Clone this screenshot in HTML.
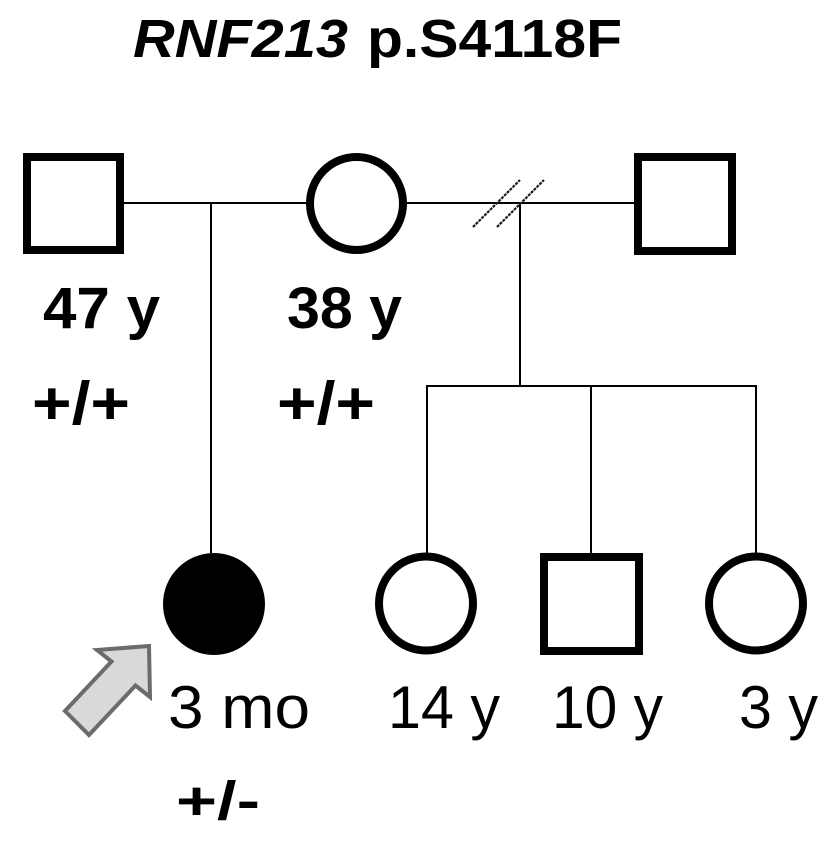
<!DOCTYPE html>
<html>
<head>
<meta charset="utf-8">
<style>
  html, body { margin: 0; padding: 0; background: #ffffff; }
  svg { display: block; }
  text { font-family: "Liberation Sans", Arial, sans-serif; fill: #000; }
</style>
</head>
<body>
<svg width="833" height="855" viewBox="0 0 833 855" xmlns="http://www.w3.org/2000/svg">
  <rect x="0" y="0" width="833" height="855" fill="#ffffff"/>

  <!-- Title -->
  <text x="133" y="57" font-size="54" font-weight="bold" font-style="italic" textLength="215" lengthAdjust="spacingAndGlyphs">RNF213</text>
  <text x="367" y="57" font-size="54" font-weight="bold" textLength="255" lengthAdjust="spacingAndGlyphs">p.S4118F</text>

  <!-- Connector lines -->
  <g stroke="#000" stroke-width="2" fill="none">
    <line x1="124" y1="203" x2="306" y2="203"/>
    <line x1="407" y1="203" x2="634" y2="203"/>
    <line x1="211" y1="203" x2="211" y2="553"/>
    <line x1="520" y1="203" x2="520" y2="386"/>
    <line x1="426" y1="386" x2="757" y2="386"/>
    <line x1="427" y1="386" x2="427" y2="553"/>
    <line x1="591" y1="386" x2="591" y2="553"/>
    <line x1="756" y1="386" x2="756" y2="553"/>
  </g>

  <!-- Divorce hatch marks -->
  <g stroke="#1a1a1a" stroke-width="2.2" stroke-dasharray="3 1">
    <line x1="473" y1="227" x2="520" y2="180"/>
    <line x1="497" y1="227" x2="544" y2="180"/>
  </g>

  <!-- Generation I -->
  <rect x="27" y="157" width="93" height="93" fill="#fff" stroke="#000" stroke-width="8"/>
  <circle cx="356.5" cy="203.5" r="46.5" fill="#fff" stroke="#000" stroke-width="8"/>
  <rect x="638" y="157" width="94" height="94" fill="#fff" stroke="#000" stroke-width="8"/>

  <!-- Generation II -->
  <circle cx="214" cy="604" r="51" fill="#000"/>
  <circle cx="426" cy="603.5" r="47" fill="#fff" stroke="#000" stroke-width="8"/>
  <rect x="544" y="557" width="95" height="94" fill="#fff" stroke="#000" stroke-width="8"/>
  <circle cx="756" cy="603.5" r="47" fill="#fff" stroke="#000" stroke-width="8"/>

  <!-- Proband arrow -->
  <polygon points="149,646 97,650 111.5,661.5 65,711 89,735 135.5,685.5 150,697"
           fill="#d9d9d9" stroke="#6b6b6b" stroke-width="4" stroke-linejoin="miter"/>

  <!-- Labels generation I -->
  <text x="43" y="328" font-size="58" font-weight="bold" textLength="117" lengthAdjust="spacingAndGlyphs">47 y</text>
  <text x="287" y="328" font-size="58" font-weight="bold" textLength="115" lengthAdjust="spacingAndGlyphs">38 y</text>
  <text x="32" y="424" font-size="60" font-weight="bold" textLength="98" lengthAdjust="spacingAndGlyphs">+/+</text>
  <text x="277" y="424" font-size="60" font-weight="bold" textLength="98" lengthAdjust="spacingAndGlyphs">+/+</text>

  <!-- Labels generation II -->
  <text x="168" y="728" font-size="60" textLength="142" lengthAdjust="spacingAndGlyphs">3 mo</text>
  <text x="176" y="819" font-size="54" font-weight="bold" textLength="84" lengthAdjust="spacingAndGlyphs">+/-</text>
  <text x="388" y="728" font-size="60" textLength="112" lengthAdjust="spacingAndGlyphs">14 y</text>
  <text x="552" y="728" font-size="60" textLength="111" lengthAdjust="spacingAndGlyphs">10 y</text>
  <text x="739" y="728" font-size="60" textLength="79" lengthAdjust="spacingAndGlyphs">3 y</text>
</svg>
</body>
</html>
